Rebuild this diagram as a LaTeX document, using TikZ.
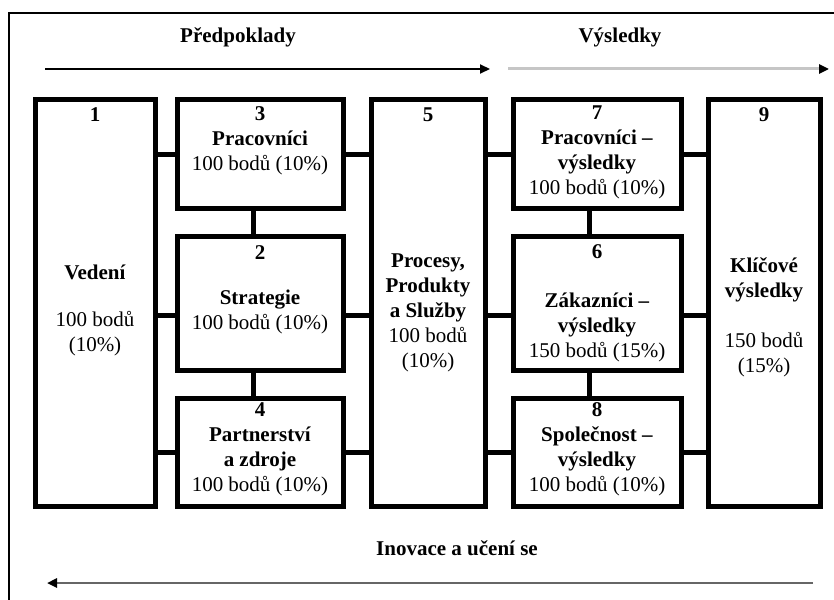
\documentclass[tikz,border=0pt]{standalone}
\usepackage{fontspec}
\setmainfont{Liberation Serif}
\usetikzlibrary{arrows.meta,calc}

\begin{document}
\begin{tikzpicture}[x=1pt,y=-1pt,line join=miter,
  box/.style={draw,line width=5pt,inner sep=0pt},
  conn/.style={line width=5pt},
  lbl/.style={font=\fontsize{21}{25}\selectfont,align=center,inner sep=0pt},
  flow/.style={line width=2pt,-{Triangle[length=10pt,width=9pt,black]}}]
  \useasboundingbox (0,0) rectangle (834,599);
  % frame (only top and left edge show)
  \draw[line width=1.4pt] (9,620) -- (9,13) -- (850,13);
  % boxes
  \node[box,minimum width=120,minimum height=406] (b1) at (95,303) {};
  \node[box,minimum width=166,minimum height=108] (b3) at (260,154) {};
  \node[box,minimum width=166,minimum height=134] (b2) at (260,303) {};
  \node[box,minimum width=166,minimum height=108] (b4) at (260,452) {};
  \node[box,minimum width=114,minimum height=406] (b5) at (428,303) {};
  \node[box,minimum width=168,minimum height=108] (b7) at (597,154) {};
  \node[box,minimum width=168,minimum height=134] (b6) at (597,303) {};
  \node[box,minimum width=168,minimum height=108] (b8) at (597,452) {};
  \node[box,minimum width=112,minimum height=406] (b9) at (764,303) {};
  % connectors
  \draw[conn] (b1.east |- b3.west) -- (b3.west);
  \draw[conn] (b3.east) -- (b5.west |- b3.east);
  \draw[conn] (b1.east |- 0,315) -- ([yshift=-12pt]b2.west);
  \draw[conn] ([yshift=-12pt]b2.east) -- (b5.west |- 0,315);
  \draw[conn] (b1.east |- b4.west) -- (b4.west);
  \draw[conn] (b4.east) -- (b5.west |- b4.east);
  \draw[conn] ([xshift=-7pt]b3.south) -- ([xshift=-7pt]b2.north);
  \draw[conn] ([xshift=-7pt]b2.south) -- ([xshift=-7pt]b4.north);
  \draw[conn] (b5.east |- b7.west) -- (b7.west);
  \draw[conn] (b7.east) -- (b9.west |- b7.east);
  \draw[conn] (b5.east |- 0,315) -- ([yshift=-12pt]b6.west);
  \draw[conn] ([yshift=-12pt]b6.east) -- (b9.west |- 0,315);
  \draw[conn] (b5.east |- b8.west) -- (b8.west);
  \draw[conn] (b8.east) -- (b9.west |- b8.east);
  \draw[conn] ([xshift=-8pt]b7.south) -- ([xshift=-8pt]b6.north);
  \draw[conn] ([xshift=-8pt]b6.south) -- ([xshift=-8pt]b8.north);
  % texts
  \node[lbl] (n1) at (95,115) {\textbf{1}};
  \node[lbl] (t1) at (95,272) {\textbf{Vedení}};
  \node[lbl] (p1) at (95,334) {100 bodů\\(10\%)};
  \node[lbl] (t3) at (260,141) {\textbf{3}\\\textbf{Pracovníci}\\100 bodů (10\%)};
  \node[lbl] (n2) at (260,253) {\textbf{2}};
  \node[lbl] (t2) at (260,312) {\textbf{Strategie}\\100 bodů (10\%)};
  \node[lbl] (t4) at (260,449) {\textbf{4}\\\textbf{Partnerství}\\\textbf{a zdroje}\\100 bodů (10\%)};
  \node[lbl] (n5) at (428,115) {\textbf{5}};
  \node[lbl] (t5) at (428,313) {\textbf{Procesy,}\\\textbf{Produkty}\\\textbf{a Služby}\\100 bodů\\(10\%)};
  \node[lbl] (t7) at (597,152) {\textbf{7}\\\textbf{Pracovníci –}\\\textbf{výsledky}\\100 bodů (10\%)};
  \node[lbl] (n6) at (597,252) {\textbf{6}};
  \node[lbl] (t6) at (597,327) {\textbf{Zákazníci –}\\\textbf{výsledky}\\150 bodů (15\%)};
  \node[lbl] (t8) at (597,449) {\textbf{8}\\\textbf{Společnost –}\\\textbf{výsledky}\\100 bodů (10\%)};
  \node[lbl] (n9) at (764,115) {\textbf{9}};
  \node[lbl] (t9) at (764,280) {\textbf{Klíčové}\\\textbf{výsledky}};
  \node[lbl] (p9) at (764,355) {150 bodů\\(15\%)};
  % headings and flow arrows
  \node[lbl] (pre) at (238,37) {\textbf{Předpoklady}};
  \node[lbl] (vys) at (620,37) {\textbf{Výsledky}};
  \node[lbl] (ino) at (457,548) {\textbf{Inovace a učení se}};
  \coordinate (pres) at (45,69);
  \coordinate (pree) at (490,69);
  \coordinate (vyss) at (508,69);
  \coordinate (vyse) at (829,69);
  \coordinate (inos) at (813,583);
  \coordinate (inoe) at (47,583);
  \draw[flow] (pres) -- (pree);
  \draw[flow,gray!45,line width=3pt] (vyss) -- (vyse);
  \draw[flow,black!60,line width=2.5pt] (inos) -- (inoe);
\end{tikzpicture}
\end{document}
